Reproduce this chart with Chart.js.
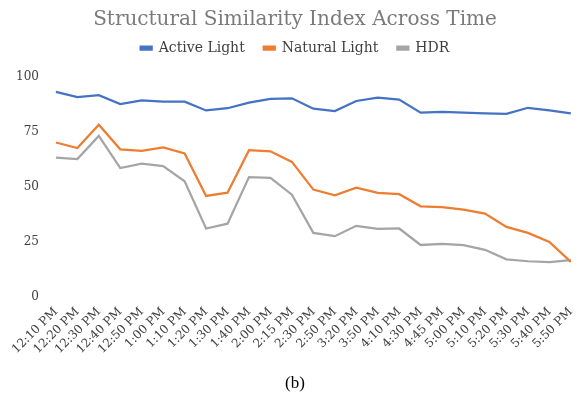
<!DOCTYPE html>
<html>
<head>
<meta charset="utf-8">
<script src="https://cdn.jsdelivr.net/npm/chart.js"></script>
<style>
  html, body { margin: 0; padding: 0; background: #fff; }
  #wrap { width: 581px; height: 402px; }
</style>
</head>
<body>
<div id="wrap"><canvas id="myChart"></canvas></div>
<script>
const timeLabels = ['12:10 PM','12:20 PM','12:30 PM','12:40 PM','12:50 PM','1:00 PM','1:10 PM','1:20 PM','1:30 PM','1:40 PM','2:00 PM','2:15 PM','2:30 PM','2:50 PM','3:20 PM','3:50 PM','4:10 PM','4:30 PM','4:45 PM','5:00 PM','5:10 PM','5:20 PM','5:30 PM','5:40 PM','5:50 PM'];

const activeLight = [93.2, 90.9, 91.7, 87.7, 89.4, 88.8, 88.8, 84.8, 85.8, 88.3, 90.0, 90.3, 85.6, 84.5, 89.1, 90.6, 89.7, 83.8, 84.1, 83.8, 83.5, 83.2, 86.0, 84.8, 83.5];
const naturalLight = [70.2, 67.7, 78.3, 67.1, 66.4, 68.0, 65.2, 45.9, 47.4, 66.7, 66.2, 61.4, 48.8, 46.2, 49.7, 47.3, 46.7, 41.2, 40.8, 39.7, 37.9, 31.8, 29.1, 25.0, 15.9];
const hdr = [63.3, 62.7, 73.2, 58.6, 60.6, 59.5, 52.6, 31.1, 33.3, 54.5, 54.1, 46.5, 29.1, 27.6, 32.3, 30.9, 31.1, 23.6, 24.1, 23.5, 21.4, 17.1, 16.2, 15.8, 16.7];

const yTicks = [0, 25, 50, 75, 100];

const serif = 'DejaVu Serif';

// extra room under the legend
const legendGap = {
  id: 'legendGap',
  beforeInit(chart) {
    const fit = chart.legend.fit;
    chart.legend.fit = function () {
      fit.bind(chart.legend)();
      this.height += 12;
    };
  }
};

const ctxt = document.getElementById('myChart').getContext('2d');

const myChart = new Chart(ctxt, {
  type: 'line',
  data: {
    labels: timeLabels,
    datasets: [
      { label: 'Active Light', data: activeLight, borderColor: '#4472c4', backgroundColor: '#4472c4' },
      { label: 'Natural Light', data: naturalLight, borderColor: '#ed7d31', backgroundColor: '#ed7d31' },
      { label: 'HDR', data: hdr, borderColor: '#a5a5a5', backgroundColor: '#a5a5a5' }
    ]
  },
  options: {
    responsive: true,
    maintainAspectRatio: false,
    animation: false,
    elements: {
      line: { borderWidth: 2.25, tension: 0 },
      point: { radius: 0 }
    },
    layout: { padding: { left: 7, right: -2, top: 6, bottom: 8 } },
    plugins: {
      title: {
        display: true,
        text: 'Structural Similarity Index Across Time',
        color: '#7a7a7a',
        font: { family: serif, size: 20, weight: 'normal' },
        padding: { top: 2, bottom: -10 }
      },
      legend: {
        labels: {
          color: '#404040',
          font: { family: serif, size: 14 },
          boxWidth: 11,
          boxHeight: 3,
          padding: 19
        }
      },
      subtitle: {
        display: true,
        position: 'bottom',
        text: '(b)',
        color: '#000',
        font: { family: 'Liberation Serif', size: 17, weight: 'normal' },
        padding: { top: 17, bottom: 0 }
      },
      tooltip: { enabled: false }
    },
    scales: {
      x: {
        offset: false,
        grid: { display: false },
        border: { display: false },
        ticks: {
          autoSkip: false,
          minRotation: 45,
          maxRotation: 45,
          color: '#404040',
          font: { family: serif, size: 12 },
          padding: 0
        }
      },
      y: {
        min: 0,
        max: 100,
        grid: { display: false },
        border: { display: false },
        afterBuildTicks: (axis) => { axis.ticks = yTicks.map(v => ({ value: v })); },
        ticks: {
          color: '#404040',
          font: { family: serif, size: 12 },
          padding: 9
        }
      }
    }
  },
  plugins: [legendGap]
});
</script>
</body>
</html>
